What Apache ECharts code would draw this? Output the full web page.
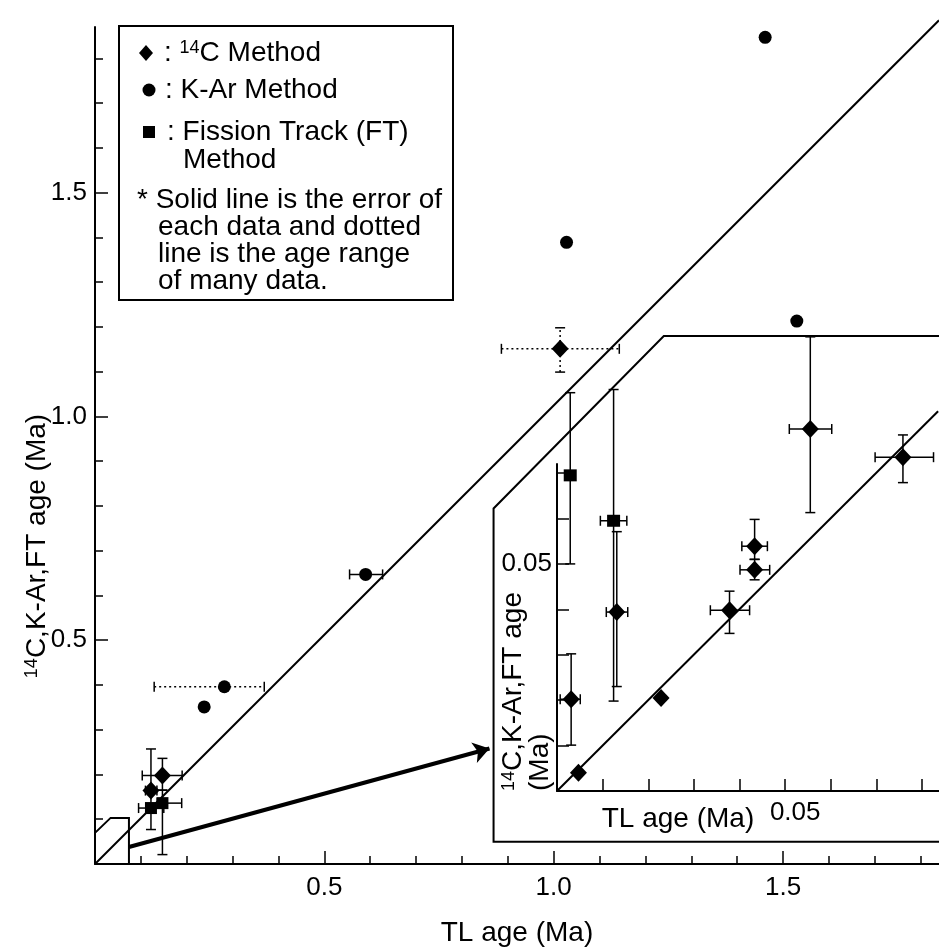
<!DOCTYPE html>
<html>
<head>
<meta charset="utf-8">
<script src="https://cdn.jsdelivr.net/npm/echarts@6/dist/echarts.min.js"></script>
<style>
html, body { margin: 0; padding: 0; background: #fff; }
#chart { width: 939px; height: 952px; }
</style>
</head>
<body>
<div id="chart"></div>
<script>
// rows: [TL age, 14C/K-Ar/FT age, xLow, xHigh, yLow, yHigh]  (null = no bar)
const c14Main = [
  [0.147, 0.198, 0.103, 0.190, 0.165, 0.236],
  [0.122, 0.164, 0.110, 0.135, 0.077, 0.257]
];
const c14MainRange = [
  [1.014, 1.151, 0.886, 1.143, 1.099, 1.198]
];
const kArMain = [
  [1.461, 1.847, null, null, null, null],
  [1.028, 1.389, null, null, null, null],
  [1.530, 1.213, null, null, null, null],
  [0.590, 0.647, 0.555, 0.627, null, null],
  [0.238, 0.351, null, null, null, null]
];
const kArMainRange = [
  [0.282, 0.396, 0.129, 0.369, null, null]
];
const ftMain = [
  [0.122, 0.125, 0.095, 0.150, null, null],
  [0.147, 0.136, 0.136, 0.189, 0.021, 0.165]
];

// enlarged part (0 - 0.08 Ma)
const c14Inset = [
  [0.0031, 0.0202, 0.0007, 0.0051, 0.0101, 0.0302],
  [0.0047, 0.0040, null, null, null, null],
  [0.0228, 0.0205, null, null, null, null],
  [0.0131, 0.0394, 0.0108, 0.0155, 0.0230, 0.0571],
  [0.0378, 0.0398, 0.0336, 0.0422, 0.0347, 0.0440],
  [0.0433, 0.0539, 0.0405, 0.0461, 0.0510, 0.0598],
  [0.0433, 0.0487, 0.0401, 0.0466, 0.0465, 0.0510],
  [0.0555, 0.0797, 0.0509, 0.0602, 0.0613, 0.1000],
  [0.0758, 0.0735, 0.0697, 0.0825, 0.0679, 0.0784]
];
const ftInset = [
  [0.0029, 0.0695, null, null, 0.0500, 0.0877],
  [0.0124, 0.0595, 0.0095, 0.0153, 0.0198, 0.0884]
];

// 1:1 lines and outlines of the enlarged area
const oneToOneMain = [[0, 0], [1.84, 1.885]];
const oneToOneInset = [[0, 0], [0.0835, 0.0836]];
const smallBox = [[0, 0.0696], [0.034, 0.103], [0.074, 0.103], [0.074, 0]];
const insetFrame = [[0.09, -0.0112], [-0.0139, -0.0112], [-0.0139, 0.0622], [0.0234, 0.1002], [0.09, 0.1002]];
const arrowPath = [[0.074, 0.038], [0.86, 0.258]];

// ticks
const mainXTicks = [0.1, 0.2, 0.3, 0.4, 0.5, 0.6, 0.7, 0.8, 0.9, 1.0, 1.1, 1.2, 1.3, 1.4, 1.5, 1.6, 1.7, 1.8];
const mainYTicks = [0.1, 0.2, 0.3, 0.4, 0.5, 0.6, 0.7, 0.8, 0.9, 1.0, 1.1, 1.2, 1.3, 1.4, 1.5, 1.6, 1.7, 1.8];
const mainLabels = [0.5, 1.0, 1.5];
const insetXTicks = [0.01, 0.02, 0.03, 0.04, 0.05, 0.06, 0.07, 0.08];
const insetYTicks = [0.01, 0.02, 0.03, 0.04, 0.05, 0.06, 0.07];
const insetLabels = [0.05];

const FONT = '"Liberation Sans", Arial, Helvetica, sans-serif';
const BLACK = '#000';

function errorBars(src, dotted) {
  return function (params, api) {
    const d = src[params.dataIndex];
    const cap = 5;
    const barStyle = { stroke: BLACK, lineWidth: 1.5, lineDash: dotted ? [2, 3] : null };
    const capStyle = { stroke: BLACK, lineWidth: 1.5 };
    const children = [];
    if (d[2] != null) {
      const a = api.coord([d[2], d[1]]);
      const b = api.coord([d[3], d[1]]);
      children.push({ type: 'line', shape: { x1: a[0], y1: a[1], x2: b[0], y2: b[1] }, style: barStyle });
      children.push({ type: 'line', shape: { x1: a[0], y1: a[1] - cap, x2: a[0], y2: a[1] + cap }, style: capStyle });
      children.push({ type: 'line', shape: { x1: b[0], y1: b[1] - cap, x2: b[0], y2: b[1] + cap }, style: capStyle });
    }
    if (d[4] != null) {
      const a = api.coord([d[0], d[4]]);
      const b = api.coord([d[0], d[5]]);
      children.push({ type: 'line', shape: { x1: a[0], y1: a[1], x2: b[0], y2: b[1] }, style: barStyle });
      children.push({ type: 'line', shape: { x1: a[0] - cap, y1: a[1], x2: a[0] + cap, y2: a[1] }, style: capStyle });
      children.push({ type: 'line', shape: { x1: b[0] - cap, y1: b[1], x2: b[0] + cap, y2: b[1] }, style: capStyle });
    }
    return { type: 'group', children: children };
  };
}

function barSeries(src, dotted, gi) {
  return {
    type: 'custom',
    xAxisIndex: gi, yAxisIndex: gi,
    renderItem: errorBars(src, dotted),
    data: src.map(d => [d[0], d[1]]),
    clip: false,
    z: 3,
    silent: true
  };
}

function pointSeries(src, symbol, size, gi) {
  return {
    type: 'scatter',
    xAxisIndex: gi, yAxisIndex: gi,
    symbol: symbol,
    symbolSize: size,
    itemStyle: { color: BLACK, opacity: 1 },
    data: src.map(d => [d[0], d[1]]),
    clip: false,
    z: 5
  };
}

function plainLine(data, gi, width) {
  return {
    type: 'line',
    xAxisIndex: gi, yAxisIndex: gi,
    data: data,
    symbol: 'none',
    clip: false,
    lineStyle: { color: BLACK, width: width },
    z: 2,
    silent: true
  };
}

function tickAxis(gi, pos, min, max, ticks, len, labels, labelOpt, showLine) {
  return {
    type: 'value',
    gridIndex: gi,
    position: pos,
    offset: 0,
    min: min, max: max,
    axisLine: { show: showLine, onZero: false, lineStyle: { color: BLACK, width: 2 } },
    axisTick: { show: true, inside: true, length: len, customValues: ticks, lineStyle: { color: BLACK, width: 1.5 } },
    axisLabel: labels ? Object.assign({ customValues: labels, color: BLACK, fontFamily: FONT, fontSize: 26 }, labelOpt) : { show: false },
    splitLine: { show: false }
  };
}

const chart = echarts.init(document.getElementById('chart'));

const option = {
  animation: false,
  backgroundColor: '#fff',
  grid: [
    { left: 95, top: 27, width: 844, height: 841 },
    { left: 557, top: 464, width: 382, height: 327 }
  ],
  xAxis: [
    Object.assign(tickAxis(0, 'bottom', 0, 1.84, mainXTicks, 8, mainLabels, { margin: 11, formatter: v => v.toFixed(1) }, true), {
      name: 'TL age (Ma)', nameLocation: 'middle', nameGap: 55,
      nameTextStyle: { color: BLACK, fontFamily: FONT, fontSize: 28 }
    }),
    tickAxis(0, 'bottom', 0, 1.84, mainLabels, 13, null, null, false),
    tickAxis(1, 'bottom', 0, 0.0837, insetXTicks, 12, insetLabels, { margin: 9, padding: [0, 0, 0, 20], formatter: v => v.toFixed(2) }, true)
  ],
  yAxis: [
    tickAxis(0, 'left', 0, 1.87, mainYTicks, 8, mainLabels, { margin: 8, formatter: v => v.toFixed(1) }, true),
    tickAxis(0, 'left', 0, 1.87, mainLabels, 13, null, null, false),
    tickAxis(1, 'left', 0, 0.072, insetYTicks, 12, insetLabels, { margin: 5, formatter: v => v.toFixed(2) }, true)
  ],
  series: [
    plainLine(oneToOneMain, 0, 2),
    plainLine(oneToOneInset, 2, 2),
    {
      type: 'lines',
      coordinateSystem: 'cartesian2d',
      xAxisIndex: 0, yAxisIndex: 0,
      symbol: ['none', 'arrow'],
      symbolSize: 16,
      lineStyle: { color: BLACK, width: 4, opacity: 1, curveness: 0 },
      data: [{ coords: arrowPath }],
      z: 2,
      silent: true
    },
    barSeries(c14Main, false, 0),
    barSeries(c14MainRange, true, 0),
    barSeries(kArMain, false, 0),
    barSeries(kArMainRange, true, 0),
    barSeries(ftMain, false, 0),
    barSeries(c14Inset, false, 2),
    barSeries(ftInset, false, 2),
    pointSeries(c14Main, 'diamond', [17, 18], 0),
    pointSeries(c14MainRange, 'diamond', [17, 18], 0),
    pointSeries(kArMain, 'circle', 13, 0),
    pointSeries(kArMainRange, 'circle', 13, 0),
    pointSeries(ftMain, 'rect', 12, 0),
    pointSeries(c14Inset, 'diamond', [17, 18], 2),
    pointSeries(ftInset, 'rect', [13, 12], 2)
  ]
};

chart.setOption(option);

// outlines of the enlarged area, placed through the axes' scales
const boxPts = smallBox.map(p => chart.convertToPixel({ xAxisIndex: 0, yAxisIndex: 0 }, p));
const framePts = insetFrame.map(p => chart.convertToPixel({ xAxisIndex: 2, yAxisIndex: 2 }, p));
const supRich = { sup: { fontSize: 18, fontFamily: FONT, fill: BLACK, verticalAlign: 'top', padding: [0, 0, 10, 0] } };

chart.setOption({
  graphic: [
    { type: 'polyline', shape: { points: boxPts }, style: { stroke: BLACK, lineWidth: 2, fill: null }, z: 4 },
    { type: 'polyline', shape: { points: framePts }, style: { stroke: BLACK, lineWidth: 2, fill: null }, z: 4 },
    // legend box
    { type: 'rect', left: 118, top: 25, shape: { width: 334, height: 274 }, style: { fill: '#fff', stroke: BLACK, lineWidth: 2 }, z: 10 },
    { type: 'polygon', shape: { points: [[146, 45], [153, 53], [146, 61], [139, 53]] }, style: { fill: BLACK }, z: 11 },
    { type: 'circle', shape: { cx: 149, cy: 90, r: 6.5 }, style: { fill: BLACK }, z: 11 },
    { type: 'rect', shape: { x: 143, y: 126, width: 12, height: 12 }, style: { fill: BLACK }, z: 11 },
    { type: 'text', x: 164, y: 53, z: 11, style: { text: ': {sup|14}C Method', fill: BLACK, font: '28px ' + FONT, verticalAlign: 'middle', rich: supRich } },
    { type: 'text', x: 165, y: 90, z: 11, style: { text: ': K-Ar Method', fill: BLACK, font: '28px ' + FONT, verticalAlign: 'middle' } },
    { type: 'text', x: 167, y: 132, z: 11, style: { text: ': Fission Track (FT)', fill: BLACK, font: '28px ' + FONT, verticalAlign: 'middle' } },
    { type: 'text', x: 183, y: 160, z: 11, style: { text: 'Method', fill: BLACK, font: '28px ' + FONT, verticalAlign: 'middle' } },
    { type: 'text', x: 137, y: 200, z: 11, style: { text: '* Solid line is the error of', fill: BLACK, font: '28px ' + FONT, verticalAlign: 'middle' } },
    { type: 'text', x: 158, y: 227, z: 11, style: { text: 'each data and dotted', fill: BLACK, font: '28px ' + FONT, verticalAlign: 'middle' } },
    { type: 'text', x: 158, y: 254, z: 11, style: { text: 'line is the age range', fill: BLACK, font: '28px ' + FONT, verticalAlign: 'middle' } },
    { type: 'text', x: 158, y: 281, z: 11, style: { text: 'of many data.', fill: BLACK, font: '28px ' + FONT, verticalAlign: 'middle' } },
    // main y title
    {
      type: 'text', x: 37, y: 546, rotation: Math.PI / 2, z: 11,
      style: { text: '{sup|14}C,K-Ar,FT age (Ma)', fill: BLACK, font: '28px ' + FONT, align: 'center', verticalAlign: 'middle', rich: supRich }
    },
    // inset titles
    { type: 'text', x: 678, y: 819, z: 11, style: { text: 'TL age (Ma)', fill: BLACK, font: '28px ' + FONT, align: 'center', verticalAlign: 'middle' } },
    {
      type: 'text', x: 500, y: 791, rotation: Math.PI / 2, z: 11,
      style: { text: '{sup|14}C,K-Ar,FT age\n(Ma)', fill: BLACK, font: '28px ' + FONT, align: 'left', verticalAlign: 'top', lineHeight: 27, rich: supRich }
    }
  ]
});
</script>
</body>
</html>
